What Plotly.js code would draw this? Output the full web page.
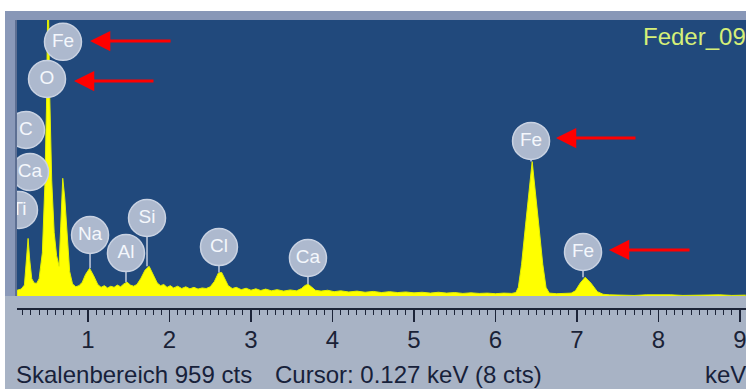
<!DOCTYPE html>
<html>
<head>
<meta charset="utf-8">
<script src="https://cdn.plot.ly/plotly-3.0.1.min.js"></script>
<style>html,body{margin:0;padding:0;background:#fff;}#chart{width:746px;height:389px;}</style>
</head>
<body>
<div id="chart"></div>
<script>
// Spectrum: energy (keV) and counts
const energy = [0.13,0.18,0.22,0.245,0.265,0.285,0.31,0.34,0.37,0.40,0.44,0.47,0.49,0.51,0.53,0.555,0.585,0.615,0.645,0.665,0.69,0.715,0.745,0.775,0.81,0.85,0.89,0.93,0.97,1.02,1.07,1.12,1.16,1.20,1.24,1.28,1.32,1.36,1.40,1.44,1.48,1.52,1.56,1.60,1.65,1.70,1.75,1.80,1.85,1.89,1.93,1.97,2.01,2.05,2.10,2.15,2.20,2.25,2.30,2.35,2.40,2.45,2.50,2.55,2.60,2.64,2.68,2.72,2.77,2.82,2.88,2.94,3.00,3.06,3.12,3.18,3.25,3.32,3.40,3.48,3.56,3.62,3.66,3.70,3.74,3.79,3.86,3.94,4.02,4.10,4.20,4.30,4.40,4.50,4.60,4.70,4.80,4.90,5.00,5.10,5.20,5.30,5.40,5.50,5.60,5.70,5.80,5.90,6.00,6.10,6.20,6.25,6.28,6.32,6.37,6.45,6.53,6.58,6.62,6.66,6.75,6.85,6.93,6.98,7.04,7.10,7.17,7.25,7.32,7.40,7.55,7.70,7.85,8.00,8.15,8.30,8.45,8.60,8.75,8.90,9.07];
const counts = [20,24,38,120,200,125,60,45,44,60,150,380,650,1100,700,400,220,140,103,240,409,340,190,85,42,32,36,48,75,96,70,40,30,36,28,34,30,38,32,42,48,38,34,40,62,90,103,72,45,36,40,30,36,28,34,26,32,25,30,24,28,26,32,50,80,82,58,36,26,30,22,27,20,25,19,24,18,22,17,21,18,26,36,41,32,20,17,20,15,18,14,17,13,16,12,15,12,14,11,13,10,13,10,12,9,11,9,10,8,10,9,12,30,110,250,467,250,110,30,10,8,9,10,18,45,65,45,15,6,4,3,2,4,5,4,2,3,5,4,2,3];

// Element labels
const labelText = ['Fe','O','C','Ca','Ti','Na','Al','Si','Cl','Ca','Fe','Fe'];
const labelE = [0.693,0.497,0.239,0.288,0.153,1.025,1.466,1.724,2.607,3.699,6.436,7.074];
const labelY = [883,754,577,431,299,212,149,271,170,132,539,153];
// Stems (label index -> peak top)
const stemIdx = [5,6,7,8,9,10,11];
const stemEnd = [96,48,103,82,41,467,65];

// Red arrows (head position) and tail length in px
const arrowE = [1.025,0.828,6.742,7.393];
const arrowY = [886,747,549,160];
const arrowLen = [82,81,81,82];

// Axis ticks
const tickVals = [1,2,3,4,5,6,7,8,9];
const tickText = ['1','2','3','4','5','6','7','8','9'];

const H = 389, W = 746;
const py = p => (H - p) / H;
const px = p => p / W;

const stemX = [], stemY = [];
stemIdx.forEach((k, i) => { stemX.push(labelE[k], labelE[k], null); stemY.push(labelY[k], stemEnd[i], null); });

const traces = [
  {x: energy, y: counts, type: 'scatter', mode: 'lines', fill: 'tozeroy',
   fillcolor: '#ffff00', line: {color: '#e2f000', width: 1}, hoverinfo: 'skip', cliponaxis: true},
  {x: stemX, y: stemY, type: 'scatter', mode: 'lines', line: {color: '#b9c4d8', width: 1.6}, hoverinfo: 'skip'},
  {x: labelE, y: labelY, type: 'scatter', mode: 'markers+text', text: labelText,
   textposition: 'middle center', cliponaxis: true,
   marker: {size: 37, color: '#adb9ce', line: {color: '#c9d2e2', width: 1.5}},
   textfont: {family: 'Liberation Sans, Arial, sans-serif', size: 19, color: '#f4f7fc'}, hoverinfo: 'skip'}
];

const annotations = arrowE.map((e, i) => ({
  x: e, y: arrowY[i], xref: 'x', yref: 'y', text: '', showarrow: true,
  ax: arrowLen[i], ay: 0, arrowhead: 2, arrowsize: 1.35, arrowwidth: 3, arrowcolor: '#ff0000', standoff: 0
}));
const tfont = {family: 'Liberation Sans, Arial, sans-serif', size: 24, color: '#17213a'};
annotations.push(
  {xref: 'paper', yref: 'paper', x: px(14), y: py(374), xanchor: 'left', yanchor: 'middle', text: 'Skalenbereich 959 cts', showarrow: false, font: tfont},
  {xref: 'paper', yref: 'paper', x: px(273), y: py(374), xanchor: 'left', yanchor: 'middle', text: 'Cursor: 0.127 keV (8 cts)', showarrow: false, font: tfont},
  {xref: 'paper', yref: 'paper', x: px(703), y: py(374), xanchor: 'left', yanchor: 'middle', text: 'keV', showarrow: false, font: tfont},
  {xref: 'paper', yref: 'paper', x: px(641), y: py(36), xanchor: 'left', yanchor: 'middle', text: 'Feder_09', showarrow: false,
   font: {family: 'Liberation Sans, Arial, sans-serif', size: 24, color: '#d6ef78'}}
);

const shapes = [
  {type: 'rect', xref: 'paper', yref: 'paper', x0: 0, x1: px(5), y0: 0, y1: 1, fillcolor: '#ffffff', line: {width: 0}, layer: 'above'},
  {type: 'rect', xref: 'paper', yref: 'paper', x0: 0, x1: 1, y0: py(11), y1: 1, fillcolor: '#ffffff', line: {width: 0}, layer: 'above'},
  {type: 'rect', xref: 'paper', yref: 'paper', x0: px(5), x1: px(17), y0: py(296), y1: py(11), fillcolor: '#8a99b9', line: {width: 0}, layer: 'above'},
  {type: 'rect', xref: 'paper', yref: 'paper', x0: px(5), x1: 1, y0: py(20), y1: py(11), fillcolor: '#8897b7', line: {width: 0}, layer: 'above'},
  {type: 'rect', xref: 'paper', yref: 'paper', x0: px(15), x1: px(17), y0: py(296), y1: py(20), fillcolor: '#5d6f93', line: {width: 0}, layer: 'above'}
];

const layout = {
  width: W, height: H,
  margin: {l: 0, r: 0, t: 0, b: 0, pad: 0},
  paper_bgcolor: '#a8b3c5',
  plot_bgcolor: '#21497c',
  showlegend: false,
  xaxis: {
    domain: [px(17), 1], range: [(17 - 6.5) / 81.5, (746 - 6.5) / 81.5],
    anchor: 'free', position: py(308),
    showgrid: false, zeroline: false, showline: true, linecolor: '#1c2438', linewidth: 1.5,
    ticks: 'outside', ticklen: 12, tickwidth: 1.5, tickcolor: '#1c2438',
    tickvals: tickVals, ticktext: tickText, ticklabelstandoff: -2, ticklabeloverflow: 'allow',
    tickfont: {family: 'Liberation Sans, Arial, sans-serif', size: 24, color: '#1a2236'},
    minor: {dtick: 0.1, tick0: 0, ticklen: 5, tickwidth: 1, tickcolor: '#1c2438', showgrid: false, ticks: 'outside'},
    fixedrange: true
  },
  yaxis: {
    domain: [py(296), py(20)], range: [0, 959],
    showgrid: false, zeroline: false, showline: false, showticklabels: false, ticks: '', fixedrange: true
  },
  annotations: annotations,
  shapes: shapes
};

Plotly.newPlot('chart', traces, layout, {displayModeBar: false, staticPlot: true});
</script>
</body>
</html>
